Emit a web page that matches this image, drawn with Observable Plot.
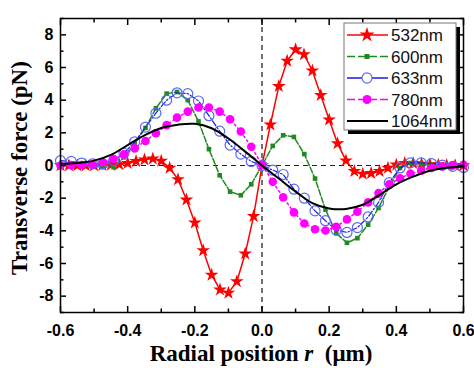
<!DOCTYPE html>
<html><head><meta charset="utf-8">
<script src="https://cdn.jsdelivr.net/npm/d3@7"></script>
<script src="https://cdn.jsdelivr.net/npm/@observablehq/plot@0.6"></script>
<style>body{margin:0;background:#fff} #chart{width:474px;height:368px}</style>
</head><body><div id="chart"></div>
<script>
// radial positions (μm)
const r532 = [-0.6,-0.575,-0.55,-0.525,-0.5,-0.475,-0.45,-0.425,-0.4,-0.375,-0.35,-0.325,-0.3,-0.275,-0.25,-0.225,-0.2,-0.175,-0.15,-0.125,-0.1,-0.075,-0.05,-0.025,0,0.025,0.05,0.075,0.1,0.125,0.15,0.175,0.2,0.225,0.25,0.275,0.3,0.325,0.35,0.375,0.4,0.425,0.45,0.475,0.5,0.525,0.55,0.575,0.6];
const f532 = [0,0,0,0,0,0.02,0.03,0.06,0.14,0.26,0.36,0.42,0.28,-0.15,-0.85,-2.1,-3.5,-5.2,-6.7,-7.6,-7.8,-7.1,-5.4,-3.1,0,2.5,4.85,6.4,7.1,6.8,5.8,4.3,2.8,1.35,0.3,-0.35,-0.52,-0.47,-0.35,-0.15,0.04,0.14,0.14,0.1,0.06,0.04,0.02,0.01,0];
const rGrid = [-0.6,-0.568,-0.537,-0.505,-0.474,-0.442,-0.411,-0.379,-0.347,-0.316,-0.284,-0.253,-0.221,-0.189,-0.158,-0.126,-0.095,-0.063,-0.032,0,0.032,0.063,0.095,0.126,0.158,0.189,0.221,0.253,0.284,0.316,0.347,0.379,0.411,0.442,0.474,0.505,0.537,0.568,0.6];
const f600 = [0,0,0,-0.05,-0.1,-0.1,0.5,1.35,2.3,3.5,4.4,4.5,4.0,2.7,1.0,-0.6,-1.6,-1.82,-1.15,0,1.2,1.85,1.75,0.7,-0.8,-2.7,-4.15,-4.73,-4.45,-3.62,-2.6,-1.3,-0.15,0.15,0.1,0.05,0.02,0,0];
const f633 = [0.3,0.25,0.15,0.1,0.1,0.3,0.75,1.45,2.35,3.2,4.0,4.45,4.4,3.95,3.05,2.1,1.25,0.7,0.25,0,-0.28,-0.55,-1.45,-2.0,-2.78,-3.38,-3.95,-4.1,-3.8,-3.15,-2.26,-1.05,-0.15,0.16,0.16,0.12,0.02,-0.05,-0.12];
const f780 = [0,0.02,0.03,0.06,0.2,0.4,0.68,1.05,1.5,1.97,2.47,2.93,3.3,3.55,3.55,3.3,2.83,2.08,1.15,0.05,-1.0,-1.95,-2.87,-3.55,-3.9,-3.98,-3.75,-3.3,-2.83,-2.26,-1.68,-1.15,-0.78,-0.5,-0.32,-0.15,-0.05,0,0.05];
const r1064 = [-0.6,-0.55,-0.5,-0.45,-0.4,-0.35,-0.3,-0.25,-0.2,-0.15,-0.1,-0.05,0,0.05,0.1,0.15,0.2,0.25,0.3,0.35,0.4,0.45,0.5,0.55,0.6];
const f1064 = [0.1,0.15,0.3,0.65,1.25,1.85,2.3,2.5,2.55,2.28,1.65,0.85,0,-0.8,-1.6,-2.3,-2.63,-2.66,-2.4,-1.8,-1.15,-0.68,-0.32,-0.14,-0.06];
const seriesNames = ["532nm","600nm","633nm","780nm","1064nm"];
const xMajor = [-0.6,-0.4,-0.2,0,0.2,0.4,0.6];
const xMinor = [-0.5,-0.3,-0.1,0.1,0.3,0.5];
const yMajor = [-8,-6,-4,-2,0,2,4,6,8];
const yMinor = [-9,-7,-5,-3,-1,1,3,5,7,9];

const d532 = r532.map((r,i)=>({r, f:f532[i]}));
const d600 = rGrid.map((r,i)=>({r, f:f600[i]}));
const d633 = rGrid.map((r,i)=>({r, f:f633[i]}));
const d780 = rGrid.map((r,i)=>({r, f:f780[i]}));
const d1064 = r1064.map((r,i)=>({r, f:f1064[i]}));

const C = {red:"#ff0000", green:"#1f8a1f", blue:"#1a1ae6", blueC:"#5a6af0", mag:"#ff00ff", black:"#000"};
const tickFont = {fontSize:16, fontWeight:"bold", fontFamily:"Liberation Sans, Arial, sans-serif"};
const tk = {text:null, label:null, strokeWidth:1.5};

const svg = Plot.plot({
  width:474, height:368,
  marginLeft:60, marginRight:11, marginTop:18, marginBottom:56,
  x:{domain:[-0.6,0.6]}, y:{domain:[-9,9]},
  style:{background:"#fff", color:"#000", ...tickFont},
  marks:[
    Plot.ruleY([0], {stroke:"#222", strokeDasharray:"5,4", strokeWidth:1.2}),
    Plot.ruleX([0], {stroke:"#444", strokeDasharray:"5,4", strokeWidth:1.5}),
    Plot.line(d532, {x:"r", y:"f", stroke:C.red, strokeWidth:1.5}),
    Plot.dot(d532, {x:"r", y:"f", symbol:"star", fill:C.red, r:4.3}),
    Plot.line(d600, {x:"r", y:"f", stroke:C.green, strokeWidth:1.5, strokeDasharray:"6,2"}),
    Plot.dot(d600, {x:"r", y:"f", symbol:"square", fill:C.green, r:2.6}),
    Plot.line(d633, {x:"r", y:"f", stroke:C.blue, strokeWidth:1.2, strokeDasharray:"6,2,1.5,2"}),
    Plot.dot(d633, {x:"r", y:"f", symbol:"circle", stroke:C.blueC, fill:"none", r:5, strokeWidth:1.2}),
    Plot.line(d780, {x:"r", y:"f", stroke:C.mag, strokeWidth:1.5, strokeDasharray:"2,3"}),
    Plot.dot(d780, {x:"r", y:"f", symbol:"circle", fill:C.mag, r:4.3}),
    Plot.line(d1064, {x:"r", y:"f", stroke:C.black, strokeWidth:2, curve:"catmull-rom"}),
    Plot.frame({stroke:"#000", strokeWidth:1.5}),
    Plot.axisX(xMajor, {anchor:"bottom", tickSize:-6, ...tk}),
    Plot.axisX(xMinor, {anchor:"bottom", tickSize:-3.5, ...tk}),
    Plot.axisX(xMajor, {anchor:"top", tickSize:-6, ...tk}),
    Plot.axisX(xMinor, {anchor:"top", tickSize:-3.5, ...tk}),
    Plot.axisX(xMajor, {anchor:"bottom", tickSize:0, tickPadding:12, label:null, tickFormat:d=>d.toFixed(1), ...tickFont}),
    Plot.axisY(yMajor, {anchor:"left", tickSize:-6, ...tk}),
    Plot.axisY(yMinor, {anchor:"left", tickSize:-3.5, ...tk}),
    Plot.axisY(yMajor, {anchor:"right", tickSize:-6, ...tk}),
    Plot.axisY(yMinor, {anchor:"right", tickSize:-3.5, ...tk}),
    Plot.axisY(yMajor, {anchor:"left", tickSize:0, tickPadding:7, label:null, tickFormat:d=>String(d), ...tickFont})
  ]
});
document.getElementById("chart").appendChild(svg);

const s = d3.select(svg);
const serif = "Liberation Serif, Times New Roman, serif";
// axis titles
s.append("text").attr("transform","translate(27,168) rotate(-90)").attr("text-anchor","middle")
  .attr("font-family",serif).attr("font-weight","bold").attr("font-size",23).attr("fill","#000")
  .text("Transverse force (pN)");
const xt = s.append("text").attr("x",261).attr("y",361).attr("text-anchor","middle")
  .attr("font-family",serif).attr("font-weight","bold").attr("font-size",23).attr("fill","#000");
xt.append("tspan").text("Radial position ");
xt.append("tspan").attr("font-style","italic").text("r");
xt.append("tspan").text("  (μm)");

// legend
const lg = s.append("g");
lg.append("rect").attr("x",348).attr("y",27).attr("width",112).attr("height",107).attr("fill","#000");
lg.append("rect").attr("x",344).attr("y",23).attr("width",112).attr("height",107).attr("fill","#fff").attr("stroke","#777").attr("stroke-width",1);
const items = [
  {c:C.red, sym:d3.symbolStar, size:70, fill:C.red, stroke:"none", dash:null},
  {c:C.green, sym:d3.symbolSquare, size:25, fill:C.green, stroke:"none", dash:"8,3"},
  {c:C.blue, sym:d3.symbolCircle, size:80, fill:"#fff", stroke:C.blueC, dash:null},
  {c:C.mag, sym:d3.symbolCircle, size:64, fill:C.mag, stroke:"none", dash:"8,3"},
  {c:"#000", sym:null, dash:null}
];
items.forEach((it,i)=>{
  const y = 35 + i*21.5;
  lg.append("line").attr("x1",347).attr("x2",388).attr("y1",y).attr("y2",y)
    .attr("stroke",it.c).attr("stroke-width",it.sym?1.5:2).attr("stroke-dasharray",it.dash);
  if(it.sym) lg.append("path").attr("d",d3.symbol(it.sym,it.size)()).attr("transform",`translate(367,${y})`)
    .attr("fill",it.fill).attr("stroke",it.stroke).attr("stroke-width",1.2);
  lg.append("text").attr("x",391).attr("y",y+6).attr("text-anchor","start")
    .attr("font-family","Liberation Sans, Arial, sans-serif").attr("font-weight","normal")
    .attr("font-size",17).attr("fill","#111").text(seriesNames[i]);
});
</script></body></html>
